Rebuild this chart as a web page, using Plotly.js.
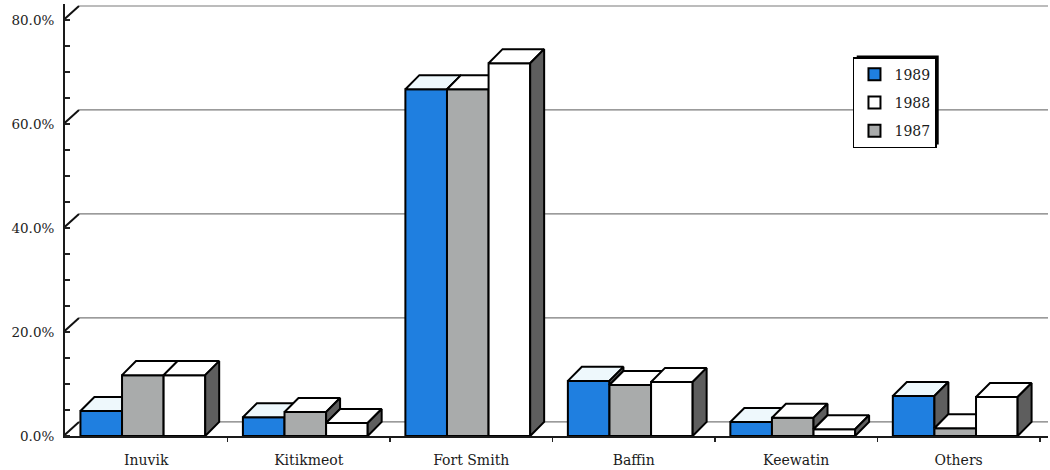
<!DOCTYPE html>
<html>
<head>
<meta charset="utf-8">
<script src="https://cdn.plot.ly/plotly-3.0.1.min.js"></script>
<style>
html,body{margin:0;padding:0;background:#fff;}
#chart{width:1050px;height:470px;}
</style>
</head>
<body>
<div id="chart"></div>
<script>
// ---- data ----
const categories = ['Inuvik', 'Kitikmeot', 'Fort Smith', 'Baffin', 'Keewatin', 'Others'];
const share1989 = [4.8, 3.6, 66.7, 10.6, 2.7, 7.7];
const share1987 = [11.7, 4.6, 66.7, 9.8, 3.5, 1.5];
const share1988 = [11.7, 2.5, 71.7, 10.4, 1.3, 7.5];
const yTickVals = [0, 20, 40, 60, 80];
const yTickText = ['0.0%', '20.0%', '40.0%', '60.0%', '80.0%'];

// ---- style / geometry ----
const FONT = 'DejaVu Serif, Liberation Serif, serif';
const W = 0.256;          // bar width (category units)
const START = -0.405;     // left edge of group relative to category center
const DX = 0.086;         // depth offset x (category units)
const DY = 2.7;           // depth offset y (percent units)
const XMAX = 5.55;
const YMAX = 83.08;
const ML = 65, MR = 2, MT = 4, MB = 34;

const series = [
  {name: '1989', vals: share1989, color: '#1f7fe0', top: '#eef8fc', rank: 1},
  {name: '1987', vals: share1987, color: '#a9abab', top: '#ffffff', rank: 3},
  {name: '1988', vals: share1988, color: '#ffffff', top: '#ffffff', rank: 2}
];
const xs = categories.map((c, i) => i);

const traces = [];

// back-wall gridlines and floor (base layer)
const gx = [], gy = [];
yTickVals.forEach(t => {
  gx.push(-0.5 + DX, XMAX, null);
  gy.push(t + DY, t + DY, null);
});
traces.push({
  type: 'scatter', mode: 'lines', x: gx, y: gy,
  line: {color: '#7a7a7a', width: 1.2},
  hoverinfo: 'skip', showlegend: false, xaxis: 'x', yaxis: 'y'
});
// diagonals joining the axis to the back wall
const dxs = [], dys = [];
yTickVals.forEach(t => { dxs.push(-0.51, -0.5 + DX, null); dys.push(t, t + DY, null); });
traces.push({
  type: 'scatter', mode: 'lines', x: dxs, y: dys,
  line: {color: '#111', width: 2},
  hoverinfo: 'skip', showlegend: false, xaxis: 'x', yaxis: 'y'
});

series.forEach((s, j) => {
  const ax = 'x' + (j + 2), ay = 'y' + (j + 2);
  traces.push({
    type: 'bar', name: s.name, x: xs, y: s.vals,
    width: W, offset: START + j * W,
    marker: {color: s.color, line: {color: '#000', width: 2}},
    legendrank: s.rank, legendgroup: s.name,
    xaxis: ax, yaxis: ay, hoverinfo: 'name+y'
  });
  const tx = [], ty = [], sx = [], sy = [];
  s.vals.forEach((v, i) => {
    const x0 = i + START + j * W, x1 = x0 + W;
    tx.push(x0, x1, x1 + DX, x0 + DX, x0, null);
    ty.push(v, v, v + DY, v + DY, v, null);
    let bottom = 0;
    let show = true;
    if (j < series.length - 1) {
      const vn = series[j + 1].vals[i];
      if (vn >= v) show = false; else bottom = vn;
    }
    if (show) {
      sx.push(x1, x1, x1 + DX, x1 + DX, x1, null);
      sy.push(bottom, v, v + DY, bottom + DY, bottom, null);
    }
  });
  traces.push({
    type: 'scatter', mode: 'lines', x: tx, y: ty, fill: 'toself',
    fillcolor: s.top, line: {color: '#000', width: 2},
    hoverinfo: 'skip', showlegend: false, xaxis: ax, yaxis: ay
  });
  traces.push({
    type: 'scatter', mode: 'lines', x: sx, y: sy, fill: 'toself',
    fillcolor: '#5e5e5e', line: {color: '#000', width: 2},
    hoverinfo: 'skip', showlegend: false, xaxis: ax, yaxis: ay
  });
});

const hiddenX = {overlaying: 'x', range: [-0.5, XMAX], visible: false, fixedrange: true};
const hiddenY = {overlaying: 'y', range: [0, YMAX], visible: false, fixedrange: true};

const layout = {
  width: 1050, height: 470,
  margin: {l: ML, r: MR, t: MT, b: MB},
  paper_bgcolor: '#fff', plot_bgcolor: '#fff',
  showlegend: true,
  font: {family: FONT, color: '#111', size: 13},
  xaxis: {
    range: [-0.5, XMAX], tickmode: 'array', tickvals: xs, ticktext: categories,
    ticks: '', showgrid: false, zeroline: false,
    showline: true, linecolor: '#1a1a1a', linewidth: 2,
    tickfont: {family: FONT, size: 14, color: '#1a1a1a'},
    ticklabelstandoff: 10,
    minor: {tickmode: 'array', tickvals: [0.5, 1.5, 2.5, 3.5, 4.5, 5.5], ticks: 'outside', ticklen: 4, tickcolor: '#222', tickwidth: 1.5, showgrid: false},
    fixedrange: true
  },
  yaxis: {
    range: [0, YMAX], tickmode: 'array', tickvals: yTickVals, ticktext: yTickText,
    ticks: '', showgrid: false, zeroline: false,
    showline: true, linecolor: '#1a1a1a', linewidth: 2,
    tickfont: {family: FONT, size: 13.5, color: '#222'},
    ticklabelstandoff: 6,
    minor: {tickmode: 'linear', tick0: 0, dtick: 5, ticks: 'inside', ticklen: 5, tickcolor: '#222', tickwidth: 1.5, showgrid: false},
    fixedrange: true
  },
  xaxis2: hiddenX, yaxis2: hiddenY,
  xaxis3: hiddenX, yaxis3: hiddenY,
  xaxis4: hiddenX, yaxis4: hiddenY,
  legend: {
    x: 0.8016, y: 0.877, xanchor: 'left', yanchor: 'top',
    bgcolor: '#fff', bordercolor: '#000', borderwidth: 1.5,
    font: {family: FONT, size: 14, color: '#1a1a1a'},
    traceorder: 'grouped', tracegroupgap: 7,
    itemwidth: 30
  },
  bargap: 0.2
};

Plotly.newPlot('chart', traces, layout, {displayModeBar: false, staticPlot: true}).then(gd => {
  // add an offset shadow behind the legend box (top/right), like the original
  const bg = gd.querySelector('.legend .bg');
  if (!bg) return;
  const r = bg.getBoundingClientRect();
  const pw = 1050 - ML - MR, ph = 470 - MT - MB;
  const toX = px => (px - ML) / pw;
  const toY = py => (470 - MB - py) / ph;
  Plotly.relayout(gd, {shapes: [{
    type: 'rect', xref: 'paper', yref: 'paper', layer: 'above',
    x0: toX(r.left + 3), x1: toX(r.right + 2.5),
    y0: toY(r.bottom - 3), y1: toY(r.top - 2.5),
    fillcolor: '#000', line: {width: 0}
  }]});
});
</script>
</body>
</html>
